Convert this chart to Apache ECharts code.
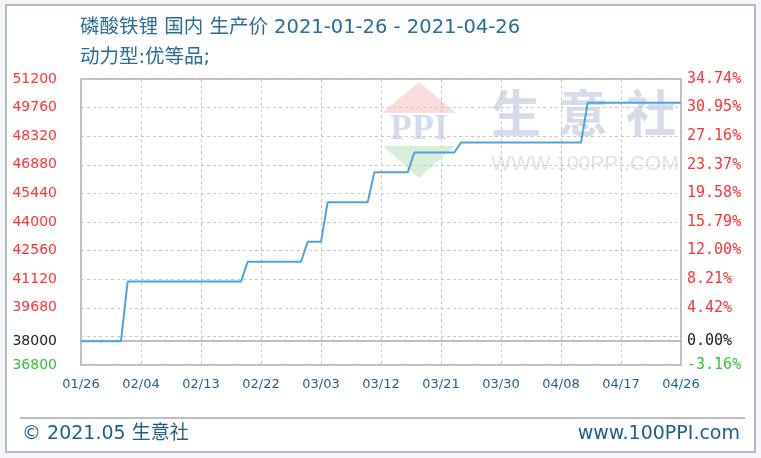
<!DOCTYPE html>
<html><head><meta charset="utf-8">
<script src="https://cdn.jsdelivr.net/npm/echarts@6/dist/echarts.min.js"></script>
<style>html,body{margin:0;padding:0;background:#f3f7fb}#c{width:761px;height:458px}</style>
</head><body><div id="c"></div>
<script>
// ---- data ----
const startDate = '2021-01-26';
const changeDates = ['2021-01-26','2021-02-01','2021-02-02','2021-02-19','2021-02-20','2021-02-28','2021-03-01','2021-03-03','2021-03-04','2021-03-10','2021-03-11','2021-03-16','2021-03-17','2021-03-23','2021-03-24','2021-04-11','2021-04-12','2021-04-26'];
const prices = [38000,38000,41000,41000,42000,42000,43000,43000,45000,45000,46500,46500,47500,47500,48000,48000,50000,50000];
const xTickLabels = ['01/26','02/04','02/13','02/22','03/03','03/12','03/21','03/30','04/08','04/17','04/26'];
const yLabelValues = [51200,49760,48320,46880,45440,44000,42560,41120,39680,38000,36800];
const yRightLabels = ['34.74%','30.95%','27.16%','23.37%','19.58%','15.79%','12.00%','8.21%','4.42%','0.00%','-3.16%'];
const baseValue = 38000;
const yMin = 36800, yMax = 51200, gridStep = 1440;

// ---- helpers ----
const DAY = 86400000;
const dayIndex = d => Math.round((Date.parse(d) - Date.parse(startDate)) / DAY);
const totalDays = dayIndex('2021-' + xTickLabels[xTickLabels.length - 1].replace('/', '-'));
const tickStep = totalDays / (xTickLabels.length - 1);
const seriesData = changeDates.map((d, i) => [dayIndex(d), prices[i]]);
const cls = v => v > baseValue ? 'up' : (v === baseValue ? 'zero' : 'down');
const richFor = (font, size) => ({
  up: {color: '#ff3333', fontFamily: font, fontSize: size},
  zero: {color: '#222222', fontFamily: font, fontSize: size},
  down: {color: '#33c433', fontFamily: font, fontSize: size}
});

const chart = echarts.init(document.getElementById('c'), null, {renderer: 'canvas'});
const titleColor = '#2b6b96';
const titleFont = '19.5px "DejaVu Sans", "Noto Sans CJK SC"';
const option = {
  backgroundColor: '#f3f7fb',
  animation: false,
  grid: {left: 81, right: 80, top: 79, bottom: 93, show: true, borderColor: '#a9a9a9', borderWidth: 1.5, backgroundColor: 'transparent'},
  xAxis: {
    type: 'value', min: 0, max: totalDays, interval: tickStep,
    axisLine: {show: false}, axisTick: {show: false},
    splitLine: {show: true, lineStyle: {color: '#c8c8c8', type: [3, 3], width: 1}},
    axisLabel: {
      showMinLabel: true, showMaxLabel: true, margin: 13,
      color: '#1f5f8e', fontFamily: 'DejaVu Sans', fontSize: 13,
      formatter: v => xTickLabels[Math.round(v / tickStep)] || ''
    }
  },
  yAxis: [
    {
      type: 'value', min: yMin, max: yMax, position: 'left',
      axisLine: {show: false}, axisTick: {show: false}, splitLine: {show: false},
      axisLabel: {
        customValues: yLabelValues, margin: 24,
        formatter: v => '{' + cls(v) + '|' + v + '}',
        rich: richFor('DejaVu Sans', 14)
      }
    },
    {
      type: 'value', min: yMin, max: yMax, position: 'right',
      axisLine: {show: false}, axisTick: {show: false}, splitLine: {show: false},
      axisLabel: {
        customValues: yLabelValues, margin: 6, align: 'left',
        formatter: v => {
          const i = yLabelValues.indexOf(v);
          return '{' + cls(v) + '|' + (i >= 0 ? yRightLabels[i] : '') + '}';
        },
        rich: richFor('DejaVu Sans Mono', 15)
      }
    },
    {
      type: 'value', min: 0, max: yMax - yMin, interval: gridStep, position: 'left',
      axisLine: {show: false}, axisTick: {show: false}, axisLabel: {show: false},
      splitLine: {show: true, lineStyle: {color: '#c8c8c8', type: [3, 3], width: 1}}
    }
  ],
  series: [
    {
      type: 'line', yAxisIndex: 0, data: [], z: 1, silent: true,
      markLine: {
        silent: true, symbol: ['none', 'none'], z: 1, animation: false,
        label: {show: false},
        lineStyle: {color: '#a9a9a9', type: 'solid', width: 1.5},
        data: [{yAxis: baseValue}]
      }
    },
    {
      type: 'line', yAxisIndex: 0, data: seriesData, z: 5,
      showSymbol: false, symbol: 'none',
      lineStyle: {color: '#4ba3e0', width: 2}
    }
  ],
  graphic: [
    {type: 'rect', z: -30, shape: {x: 6, y: 5, width: 749, height: 447}, style: {fill: '#ffffff', stroke: '#a3a3a3', lineWidth: 1.5}},
    // watermark
    {type: 'polygon', z: -20, shape: {points: [[382, 113], [456, 113], [419, 82]]}, style: {fill: '#fadcdc'}},
    {type: 'polygon', z: -20, shape: {points: [[383, 146], [455, 146], [419, 178]]}, style: {fill: '#d8eed8'}},
    {type: 'text', z: -19, style: {text: 'PPI', x: 419, y: 130, textAlign: 'center', textVerticalAlign: 'middle', font: 'bold 36px "Liberation Serif"', fill: '#d3dcee'}},
    {type: 'text', z: -19, style: {text: '生', x: 516, y: 113, textAlign: 'center', textVerticalAlign: 'middle', font: 'bold 50px "Noto Sans CJK SC"', fill: '#d5dbe8'}},
    {type: 'text', z: -19, style: {text: '意', x: 583, y: 113, textAlign: 'center', textVerticalAlign: 'middle', font: 'bold 50px "Noto Sans CJK SC"', fill: '#d5dbe8'}},
    {type: 'text', z: -19, style: {text: '社', x: 651, y: 113, textAlign: 'center', textVerticalAlign: 'middle', font: 'bold 50px "Noto Sans CJK SC"', fill: '#d5dbe8'}},
    {type: 'text', z: -19, style: {text: 'WWW.100PPI.COM', x: 585, y: 164, textAlign: 'center', textVerticalAlign: 'middle', font: '21px "Liberation Sans"', fill: '#e2e2e2'}},
    // titles
    {type: 'text', z: 10, style: {text: '磷酸铁锂 国内 生产价 2021-01-26 - 2021-04-26', x: 80, y: 28, textVerticalAlign: 'middle', font: titleFont, fill: titleColor}},
    {type: 'text', z: 10, style: {text: '动力型:优等品;', x: 80, y: 58, textVerticalAlign: 'middle', font: titleFont, fill: titleColor}},
    // footer
    {type: 'line', z: 10, shape: {x1: 20, y1: 418, x2: 745, y2: 418}, style: {stroke: '#a8a8a8', lineWidth: 1.5}},
    {type: 'text', z: 10, style: {text: '© 2021.05 生意社', x: 22, y: 434, textVerticalAlign: 'middle', font: '19px "DejaVu Sans", "Noto Sans CJK SC"', fill: '#1d5f8c'}},
    {type: 'text', z: 10, style: {text: 'www.100PPI.com', x: 740, y: 434, textAlign: 'right', textVerticalAlign: 'middle', font: '19px "DejaVu Sans"', fill: '#1d5f8c'}}
  ]
};
chart.setOption(option);
</script>
</body></html>
